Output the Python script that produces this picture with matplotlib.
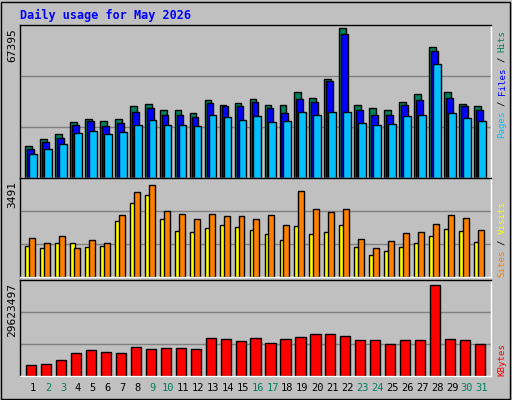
import matplotlib
matplotlib.use("Agg")
import matplotlib.pyplot as plt
import numpy as np

days = np.arange(1, 32)
weekend = [2, 3, 9, 10, 16, 17, 23, 24, 30, 31]

# values (pixel heights times unit)
hits_px = [31.7, 38.4, 43.4, 55.4, 58.4, 56.4, 58.4, 70.4, 72.4, 66.4, 66.4, 64.4, 76.4, 71.4, 73.4, 77.4,
           71.4, 71.4, 84.4, 78.4, 97.4, 147.4, 71.4, 68.4, 66.4, 74.4, 82.4, 128.4, 84.4, 72.4, 70.4]
files_px = [28.7, 35.4, 39.4, 52.4, 56.4, 51.4, 54.4, 65.4, 68.4, 62.4, 62.4, 60.4, 73.4, 70.4, 70.4, 74.4,
            68.4, 64.4, 77.4, 74.4, 95.4, 141.4, 66.4, 62.4, 62.4, 71.4, 76.4, 125.4, 78.4, 70.4, 66.4]
pages_px = [23.7, 28.4, 33.4, 44.4, 46.4, 43.4, 45.4, 52.4, 57.4, 52.4, 52.4, 51.4, 62.4, 60.4, 57.4, 61.4,
            55.4, 56.4, 65.4, 62.4, 65.4, 65.4, 54.4, 52.4, 53.4, 61.4, 62.4, 112.4, 64.4, 59.4, 56.4]
hits = np.round(np.array(hits_px) * 67395 / 147.4)
files = np.round(np.array(files_px) * 67395 / 147.4)
pages = np.round(np.array(pages_px) * 67395 / 147.4)

visits_px = [31.3, 29.3, 34.3, 34.3, 30.3, 31.3, 56.3, 74.3, 82.3, 58.3, 46.3, 45.3, 49.3, 52.3, 50.3, 47.3,
             43.3, 37.3, 51.3, 43.3, 45.3, 52.3, 30.3, 22.3, 26.3, 30.3, 34.3, 41.3, 48.3, 46.3, 35.3]
sites_px = [39.3, 34.3, 41.3, 29.3, 37.3, 34.3, 62.3, 85.3, 92.3, 66.3, 63.3, 58.3, 63.3, 61.3, 61.3, 58.3,
            62.3, 52.3, 86.3, 68.3, 65.3, 68.3, 38.3, 29.3, 36.3, 44.3, 45.3, 53.3, 62.3, 59.3, 47.3]
visits = np.round(np.array(visits_px) * 3491 / 92.3)
sites = np.round(np.array(sites_px) * 3491 / 92.3)

kb_px = [11.3, 12.3, 16.3, 23.3, 26.3, 24.3, 23.3, 29.3, 27.3, 28.3, 28.3, 27.3, 38.3, 37.3, 35.3, 38.3,
         33.3, 37.3, 39.3, 42.3, 42.3, 40.3, 36.3, 36.3, 32.3, 36.3, 36.3, 91.3, 37.3, 36.3, 32.3]
kbytes = np.round(np.array(kb_px) * 29623497 / 91.3)

W, H = 512, 400
XL, XR = 0.13, 31.6
fig = plt.figure(figsize=(W / 100, H / 100), dpi=100)
fig.patch.set_facecolor('#C0C0C0')
GRAY = '#C0C0C0'
mono = 'DejaVu Sans Mono'

def panel(top, bottom):
    ax = fig.add_axes([20 / W, 1 - bottom / H, (491 - 20) / W, (bottom - top) / H])
    ax.set_facecolor(GRAY)
    ax.set_xlim(XL, XR)
    ax.set_xticks([])
    ax.set_yticks([])
    for s in ax.spines.values():
        s.set_linewidth(1)
    ax.spines['top'].set_color('black')
    ax.spines['left'].set_color('black')
    ax.spines['bottom'].set_color('white')
    ax.spines['right'].set_color('white')
    return ax

kw = dict(edgecolor='black', linewidth=1, align='edge')

# top panel
ax1 = panel(25, 178)
top1 = 67395 * 150.5 / 147.4
ax1.set_ylim(0, top1)
for g in (top1 / 3, 2 * top1 / 3):
    ax1.axhline(g, color='#808080', lw=1, zorder=0)
ax1.bar(days - 0.53, hits, width=0.45, color='#00805C', **kw)
ax1.bar(days - 0.40, files, width=0.45, color='#0000FF', **kw)
ax1.bar(days - 0.27, pages, width=0.52, color='#00C0FF', **kw)

# middle panel
ax2 = panel(178, 277)
top2 = 3491 * 99 / 92.3
ax2.set_ylim(0, top2)
for g in (top2 / 3, 2 * top2 / 3):
    ax2.axhline(g, color='#808080', lw=1, zorder=0)
ax2.bar(days - 0.53, visits, width=0.33, color='#FFFF00', **kw)
ax2.bar(days - 0.27, sites, width=0.4, color='#FF8000', **kw)

# bottom panel
ax3 = panel(280, 376)
top3 = 29623497 * 96 / 91.3
ax3.set_ylim(0, top3)
for g in (top3 / 3, 2 * top3 / 3):
    ax3.axhline(g, color='#808080', lw=1, zorder=0)
ax3.bar(days - 0.47, kbytes, width=0.68, color='#FF0000', **kw)

# day labels
for d in days:
    x = 20 + (d - XL) / (XR - XL) * 471
    fig.text(x / W, 1 - 388 / H, str(d), ha='center', va='center', fontsize=7.5, family=mono,
             color='#00805C' if d in weekend else 'black')

# max labels
fig.text(12 / W, 1 - 28 / H, '67395', rotation=90, ha='center', va='top', fontsize=8, family=mono)
fig.text(12 / W, 1 - 181 / H, '3491', rotation=90, ha='center', va='top', fontsize=8, family=mono)
fig.text(12 / W, 1 - 283 / H, '29623497', rotation=90, ha='center', va='top', fontsize=8, family=mono)

fig.text(20 / W, 1 - 15 / H, 'Daily usage for May 2026', ha='left', va='center', fontsize=8.5,
         family=mono, weight='bold', color='#0000FF')

def legend(parts, y0):
    y = y0
    for txt, col in parts:
        stripped = txt.strip()
        lead = len(txt) - len(txt.lstrip())
        fig.text(502 / W, 1 - (y - 5.4 * lead) / H, stripped, rotation=90, ha='center', va='bottom',
                 fontsize=6.6, family=mono, color=col)
        y -= 5.4 * len(txt)

legend([('Pages', '#00C0FF'), (' / ', 'black'), ('Files', '#0000FF'), (' / ', 'black'), ('Hits', '#00805C')], 138)
legend([('Sites', '#FF8000'), (' / ', 'black'), ('Visits', '#FFFF00')], 277)
legend([('KBytes', '#FF0000')], 376)

# outer frame
fig.add_artist(plt.Rectangle((0.002, 0.002), 0.994, 0.994, transform=fig.transFigure,
                             fill=False, edgecolor='black', lw=1))

fig.savefig('out.png', dpi=100, facecolor=fig.get_facecolor())
